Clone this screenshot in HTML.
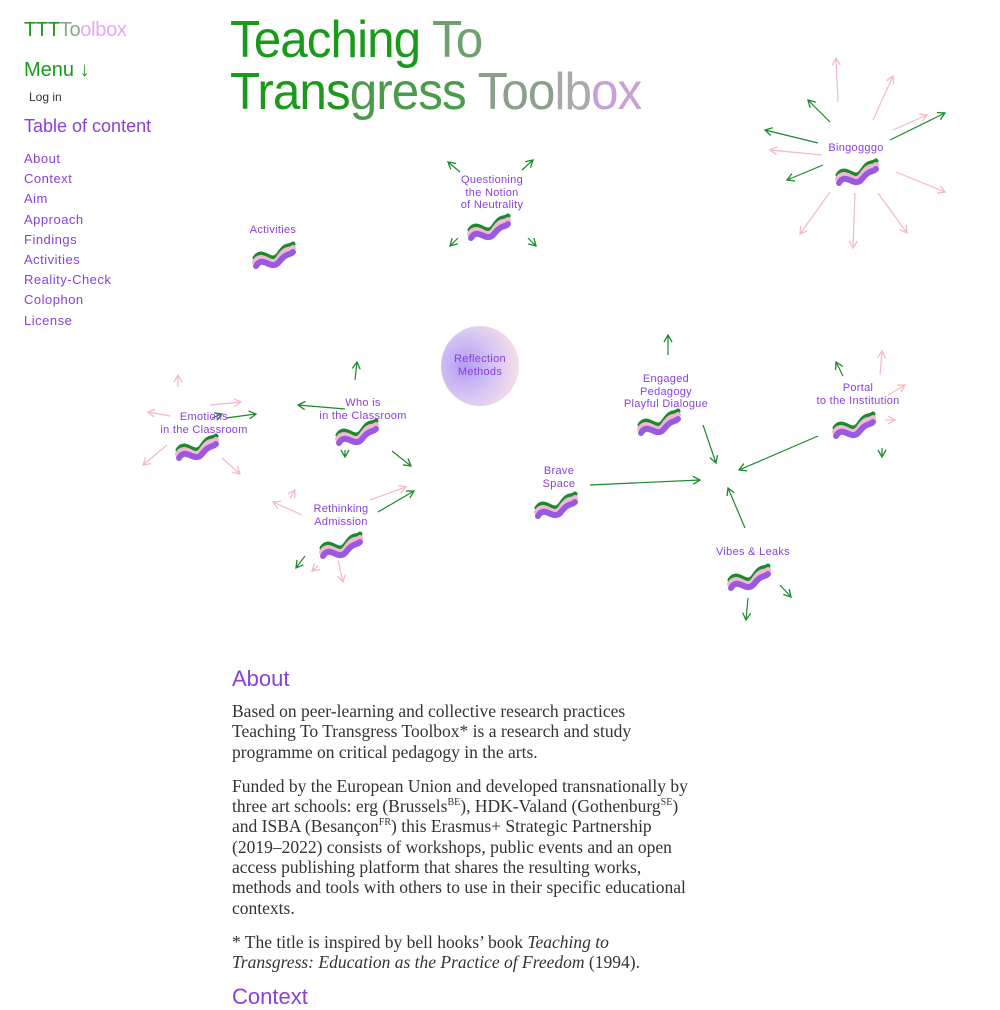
<!DOCTYPE html>
<html><head><meta charset="utf-8"><style>
body{margin:0;width:1000px;height:1000px;overflow:hidden;background:#fff;font-family:"Liberation Sans",sans-serif;position:relative}
.a{position:absolute}
.nav a{display:block;color:#8a3fd8;font-size:13px;letter-spacing:.5px;height:20.2px;text-decoration:none}
.lbl{position:absolute;color:#8a3fd8;font-size:11px;text-align:center;line-height:12.5px;letter-spacing:.3px}
.txt{position:absolute;left:232px;width:459px;font-family:"Liberation Serif",serif;font-size:17.5px;line-height:20.3px;color:#333}
.txt p{margin:0 0 14px}
sup{font-size:10px;line-height:0}
</style></head><body>
<div class="a" style="left:24px;top:19px;font-size:20px;letter-spacing:-.3px"><span style="color:#1a9a1a">TTT</span><span style="color:#8aa88a">To</span><span style="color:#e7a7f0">olbox</span></div>
<div class="a" style="left:24px;top:59px;font-size:20px;color:#1a9a1a">Menu ↓</div>
<div class="a" style="left:29px;top:90px;font-size:12px;color:#333">Log in</div>
<div class="a" style="left:24px;top:116px;font-size:18px;color:#8a3fd8">Table of content</div>
<div class="a nav" style="left:24px;top:151px"><a>About</a><a>Context</a><a>Aim</a><a>Approach</a><a>Findings</a><a>Activities</a><a>Reality-Check</a><a>Colophon</a><a>License</a></div>
<div class="a" style="left:230px;top:14px;font-size:52px;line-height:52px;letter-spacing:-1px;transform:scaleX(.95);transform-origin:left;white-space:nowrap"><span style="color:#1a9a1a">Teaching </span><span style="color:#6fa06f">To</span><br><span style="color:#1a9a1a">Trans</span><span style="color:#4b9b4b">gress </span><span style="color:#8aa08a">Too</span><span style="color:#aaa">lb</span><span style="color:#c9a0d8">ox</span></div>

<svg class="a" style="left:0;top:0" width="1000" height="650">
<defs>
<marker id="g" markerWidth="10" markerHeight="10" refX="8" refY="5" orient="auto" markerUnits="userSpaceOnUse"><path d="M1,1 L8,5 L1,9" fill="none" stroke="#1a8a2a" stroke-width="1.3"/></marker>
<marker id="p" markerWidth="10" markerHeight="10" refX="8" refY="5" orient="auto" markerUnits="userSpaceOnUse"><path d="M1,1 L8,5 L1,9" fill="none" stroke="#f4b8c8" stroke-width="1.3"/></marker>
<radialGradient id="rg" cx="30%" cy="50%" r="70%"><stop offset="0" stop-color="#b49cf4"/><stop offset=".6" stop-color="#d8c8f4"/><stop offset="1" stop-color="#f6dde6"/></radialGradient>
<g id="s" fill="none" stroke-linecap="round"><path d="M0,0 C8,-12 16,8 24,-4 S34,-10 38,-14" stroke="#1a8a2a" stroke-width="5"/><path d="M0,4 C8,-8 16,12 24,0 S34,-6 38,-10" stroke="#f2b6d6" stroke-width="6"/><path d="M1,8 C8,-4 16,14 24,4 S34,-2 38,-6" stroke="#9a5ae0" stroke-width="6"/></g>
</defs>
<g fill="none" stroke-width="1.2">
<g stroke="#1a8a2a" marker-end="url(#g)">
<line x1="818" y1="143" x2="765" y2="130"/><line x1="823" y1="165" x2="787" y2="180"/><line x1="830" y1="122" x2="808" y2="100"/><line x1="890" y1="140" x2="945" y2="113"/>
<line x1="460" y1="172" x2="448" y2="162"/><line x1="522" y1="170" x2="533" y2="160"/><line x1="458" y1="238" x2="450" y2="246"/><line x1="528" y1="238" x2="536" y2="246"/>
<line x1="355" y1="380" x2="357" y2="362"/><line x1="345" y1="409" x2="298" y2="405"/><line x1="345" y1="450" x2="345" y2="457"/><line x1="392" y1="451" x2="411" y2="466"/>
<line x1="212" y1="418" x2="222" y2="414"/><line x1="226" y1="418" x2="256" y2="414"/>
<line x1="378" y1="512" x2="414" y2="491"/><line x1="305" y1="556" x2="296" y2="568"/>
<line x1="668" y1="355" x2="668" y2="335"/><line x1="703" y1="425" x2="716" y2="463"/>
<line x1="590" y1="485" x2="700" y2="480"/><line x1="818" y1="436" x2="739" y2="470"/><line x1="745" y1="528" x2="728" y2="488"/>
<line x1="843" y1="376" x2="836" y2="362"/><line x1="882" y1="448" x2="882" y2="457"/>
<line x1="780" y1="585" x2="791" y2="597"/><line x1="748" y1="598" x2="746" y2="620"/>
</g>
<g stroke="#f4b8c8" marker-end="url(#p)">
<line x1="838" y1="102" x2="836" y2="58"/><line x1="873" y1="120" x2="893" y2="76"/><line x1="893" y1="130" x2="927" y2="115"/><line x1="896" y1="172" x2="945" y2="192"/><line x1="878" y1="193" x2="907" y2="233"/><line x1="855" y1="193" x2="853" y2="248"/><line x1="830" y1="192" x2="800" y2="234"/><line x1="822" y1="155" x2="770" y2="150"/>
<line x1="178" y1="387" x2="178" y2="375"/><line x1="170" y1="416" x2="148" y2="412"/><line x1="167" y1="445" x2="143" y2="465"/><line x1="222" y1="458" x2="240" y2="474"/><line x1="210" y1="405" x2="241" y2="402"/>
<line x1="302" y1="515" x2="273" y2="502"/><line x1="290" y1="498" x2="295" y2="490"/><line x1="370" y1="500" x2="406" y2="487"/><line x1="318" y1="566" x2="312" y2="571"/><line x1="338" y1="560" x2="343" y2="582"/>
<line x1="880" y1="375" x2="882" y2="351"/><line x1="888" y1="395" x2="905" y2="385"/><line x1="885" y1="420" x2="895" y2="420"/>
</g>
</g>
<ellipse cx="480" cy="366" rx="39" ry="40" fill="url(#rg)"/>
<use href="#s" x="470" y="230"/><use href="#s" x="338" y="435"/><use href="#s" x="178" y="450"/><use href="#s" x="255" y="258"/><use href="#s" x="838" y="175"/><use href="#s" x="640" y="425"/><use href="#s" x="537" y="508"/><use href="#s" x="322" y="548"/><use href="#s" x="730" y="580"/><use href="#s" x="835" y="428"/>
</svg>

<div class="lbl" style="left:237px;top:224px;width:72px">Activities</div>
<div class="lbl" style="left:442px;top:174px;width:100px">Questioning<br>the Notion<br>of Neutrality</div>
<div class="lbl" style="left:800px;top:142px;width:112px">Bingogggo</div>
<div class="lbl" style="left:440px;top:353px;width:80px">Reflection<br>Methods</div>
<div class="lbl" style="left:150px;top:411px;width:108px">Emotions<br>in the Classroom</div>
<div class="lbl" style="left:305px;top:397px;width:116px">Who is<br>in the Classroom</div>
<div class="lbl" style="left:290px;top:503px;width:102px">Rethinking<br>Admission</div>
<div class="lbl" style="left:610px;top:373px;width:112px">Engaged<br>Pedagogy<br>Playful Dialogue</div>
<div class="lbl" style="left:800px;top:382px;width:116px">Portal<br>to the Institution</div>
<div class="lbl" style="left:530px;top:465px;width:58px">Brave<br>Space</div>
<div class="lbl" style="left:700px;top:546px;width:106px">Vibes &amp; Leaks</div>

<div class="a" style="left:232px;top:666px;font-size:22px;color:#8a3fd8">About</div>
<div class="txt" style="top:701px">
<p>Based on peer-learning and collective research practices Teaching To Transgress Toolbox* is a research and study programme on critical pedagogy in the arts.</p>
<p>Funded by the European Union and developed transnationally by three art schools: erg (Brussels<sup>BE</sup>), HDK-Valand (Gothenburg<sup>SE</sup>) and ISBA (Besançon<sup>FR</sup>) this Erasmus+ Strategic Partnership (2019–2022) consists of workshops, public events and an open access publishing platform that shares the resulting works, methods and tools with others to use in their specific educational contexts.</p>
<p>* The title is inspired by bell hooks’ book <i>Teaching to Transgress: Education as the Practice of Freedom</i> (1994).</p>
</div>
<div class="a" style="left:232px;top:984px;font-size:22px;color:#8a3fd8">Context</div>
</body></html>
